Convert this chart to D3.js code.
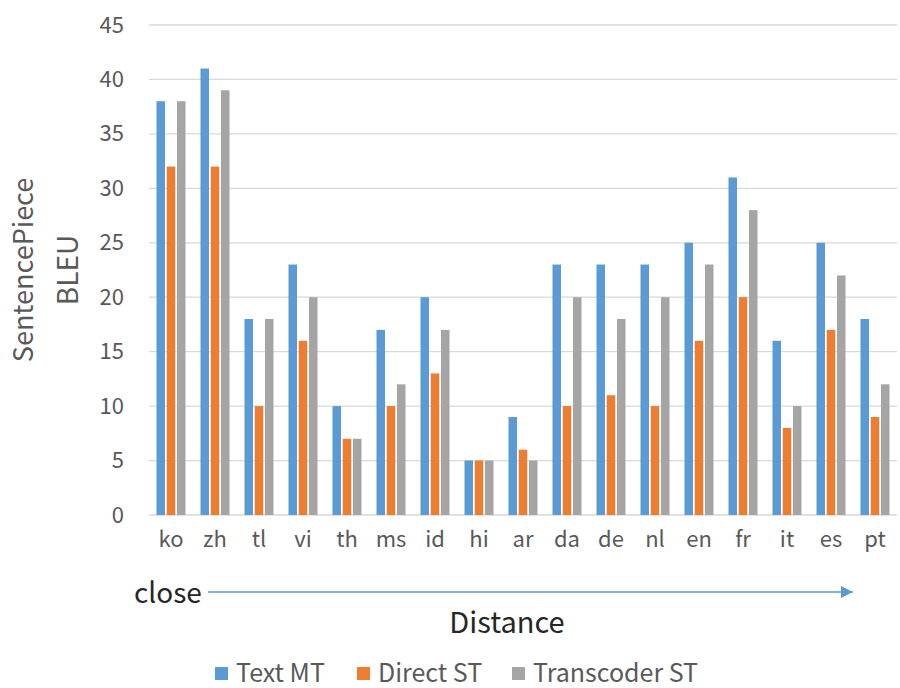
<!DOCTYPE html>
<html><head><meta charset="utf-8">
<script src="https://cdn.jsdelivr.net/npm/d3@7"></script>
<style>body{margin:0;background:#fff}svg{display:block}</style>
</head><body>
<svg id="c" width="900" height="688"></svg>
<script>
const categories = ["ko","zh","tl","vi","th","ms","id","hi","ar","da","de","nl","en","fr","it","es","pt"];
const textMT = [38,41,18,23,10,17,20,5,9,23,23,23,25,31,16,25,18];
const directST = [32,32,10,16,7,10,13,5,6,10,11,10,16,20,8,17,9];
const transcoderST = [38,39,18,20,7,12,17,5,5,20,18,20,23,28,10,22,12];
const seriesNames = ["Text MT","Direct ST","Transcoder ST"];
const colors = ["#5B9BD5","#ED7D31","#A5A5A5"];
const yTicks = [0,5,10,15,20,25,30,35,40,45];

const series = [textMT, directST, transcoderST];
const font = "'Noto Sans CJK JP', 'Noto Sans', sans-serif";
const svg = d3.select("#c");
const x = d3.scaleBand().domain(categories).range([149, 897]).paddingInner(0).paddingOuter(0);
const y = d3.scaleLinear().domain([0,45]).range([515, 25]);
const xs = d3.scaleBand().domain(seriesNames).range([0, 29]).paddingInner(0.17);
const groupOffset = (x.bandwidth() - 29) / 2;

// gridlines
svg.append("g").selectAll("line").data(yTicks).join("line")
  .attr("x1", 149).attr("x2", 897)
  .attr("y1", d => y(d)).attr("y2", d => y(d))
  .attr("stroke", "#D9D9D9").attr("stroke-width", 1.3);

// y axis labels
const yAxis = d3.axisLeft(y).tickValues(yTicks).tickSize(0).tickPadding(0);
const ga = svg.append("g").attr("transform", "translate(124,0)").call(yAxis);
ga.select(".domain").remove();
ga.selectAll("text").attr("font-family", font).attr("font-size", 22).attr("fill", "#595959");

// bars
series.forEach((vals, si) => {
  svg.append("g").selectAll("rect").data(categories).join("rect")
    .attr("x", (c) => x(c) + groupOffset + xs(seriesNames[si]))
    .attr("width", xs.bandwidth())
    .attr("y", (c, i) => y(vals[i]))
    .attr("height", (c, i) => y(0) - y(vals[i]))
    .attr("fill", colors[si]);
});

// x axis labels
const xAxis = d3.axisBottom(x).tickSize(0).tickPadding(0);
const gx = svg.append("g").attr("transform", "translate(0,530)").call(xAxis);
gx.select(".domain").remove();
gx.selectAll("text").attr("font-family", font).attr("font-size", 22).attr("fill", "#595959").attr("dy", "0.75em");

// axis titles
svg.append("text").attr("transform", "translate(33,270) rotate(-90)")
  .attr("text-anchor", "middle").attr("font-family", font).attr("font-size", 27).attr("fill", "#595959")
  .text("SentencePiece");
svg.append("text").attr("transform", "translate(78,270) rotate(-90)")
  .attr("text-anchor", "middle").attr("font-family", font).attr("font-size", 28).attr("fill", "#595959")
  .text("BLEU");

// close arrow
svg.append("defs").append("marker").attr("id","ah").attr("viewBox","0 0 10 10")
  .attr("refX", 10).attr("refY", 5).attr("markerWidth", 12).attr("markerHeight", 12)
  .attr("markerUnits","userSpaceOnUse").attr("orient","auto")
  .append("path").attr("d","M0,0 L10,5 L0,10 Z").attr("fill","#5B9BD5");
svg.append("line").attr("x1", 208).attr("x2", 853).attr("y1", 592).attr("y2", 592)
  .attr("stroke", "#5B9BD5").attr("stroke-width", 1.3).attr("marker-end", "url(#ah)");
svg.append("text").attr("x", 134).attr("y", 603).attr("font-family", font).attr("font-size", 28).attr("fill", "#262626")
  .text("close");
svg.append("text").attr("x", 507).attr("y", 633).attr("text-anchor","middle").attr("font-family", font).attr("font-size", 29).attr("fill", "#262626")
  .text("Distance");

// legend
const legX = [215, 357, 512];
const lg = svg.append("g");
seriesNames.forEach((n, i) => {
  lg.append("rect").attr("x", legX[i]).attr("y", 667).attr("width", 13).attr("height", 13).attr("fill", colors[i]);
  lg.append("text").attr("x", legX[i] + 21).attr("y", 682).attr("font-family", font).attr("font-size", 25).attr("fill", "#595959").text(n);
});
</script>
</body></html>
